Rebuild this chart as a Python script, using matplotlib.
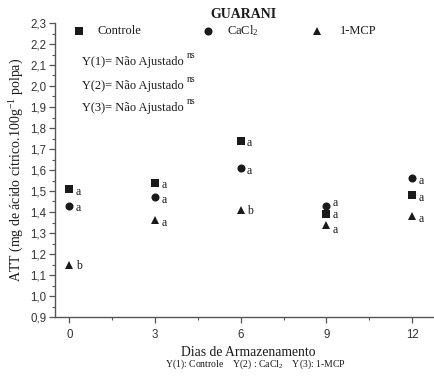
import matplotlib
matplotlib.use("Agg")
import matplotlib.pyplot as plt
from matplotlib.ticker import MultipleLocator, FuncFormatter

plt.rcParams['mathtext.fontset'] = 'custom'
plt.rcParams['mathtext.rm'] = 'Liberation Serif'
plt.rcParams['mathtext.it'] = 'Liberation Serif:italic'

days = [0, 3, 6, 9, 12]
controle = [1.51, 1.54, 1.74, 1.39, 1.48]
cacl2 = [1.43, 1.47, 1.61, 1.43, 1.56]
mcp = [1.15, 1.36, 1.41, 1.34, 1.38]
letters_controle = ['a', 'a', 'a', 'a', 'a']
letters_cacl2 = ['a', 'a', 'a', 'a', 'a']
letters_mcp = ['b', 'a', 'b', 'a', 'a']

serif = 'Liberation Serif'
sans = 'Liberation Sans'
ink = '#1a1a1a'

fig = plt.figure(figsize=(4.35, 3.76), dpi=100)
ax = fig.add_axes([55/435, 1 - 317/376, 1 - 55/435, (317 - 23)/376])

# per-series vertical nudge for the letter labels (points); day 9 is crowded
series = [
    (controle, letters_controle, 's', 5.2, [-2, -2, -2, -1, -2]),
    (cacl2, letters_cacl2, 'o', 5.8, [-2, -2, -2, 2, -2]),
    (mcp, letters_mcp, '^', 6.2, [-1, -2, -1, -4, -2]),
]
for vals, lets, mk, ms, dys in series:
    ax.plot(days, vals, linestyle='none', marker=mk, markersize=ms,
            color=ink, markeredgewidth=0)
    for x, y, t, dy in zip(days, vals, lets, dys):
        ax.annotate(t, (x, y), xytext=(4.5, dy), textcoords='offset points',
                    fontsize=8.5, family=serif, color=ink, va='center', ha='left')

ax.set_xlim(-0.5, 12.8)
ax.set_ylim(0.9, 2.3)
ax.set_xticks(days)
ax.xaxis.set_minor_locator(MultipleLocator(1.5))
ax.yaxis.set_major_locator(MultipleLocator(0.1))
ax.yaxis.set_minor_locator(MultipleLocator(0.05))
ax.yaxis.set_major_formatter(FuncFormatter(lambda v, p: f"{v:.1f}".replace('.', ',')))

for s in ['top', 'right']:
    ax.spines[s].set_visible(False)
for s in ['left', 'bottom']:
    ax.spines[s].set_color('#555555')
    ax.spines[s].set_linewidth(1.0)

ax.tick_params(axis='both', which='major', direction='out', length=4, width=0.9,
               color='#555555', labelsize=8.3, labelcolor='#333333', pad=2)
ax.tick_params(axis='both', which='minor', direction='out', length=2.5, width=0.8,
               color='#555555')
for lab in ax.get_xticklabels() + ax.get_yticklabels():
    lab.set_family(sans)
ax.tick_params(axis='x', which='major', pad=5)

ax.set_ylabel('ATT (mg de ácido cítrico.100g$^{-1}$ polpa)', family=serif,
              fontsize=10, color=ink, labelpad=3)

fig.text(243/435, 1 - 15/376, 'GUARANI', family=serif, fontweight='bold',
         fontsize=10, ha='center', va='center', color=ink)

# legend row
leg = [('s', 79, 'Controle', 98, 5.2), ('o', 208, 'CaCl$_2$', 227, 5.8),
       ('^', 317, '1-MCP', 340, 6.2)]
for mk, mx, txt, tx, ms in leg:
    fig.lines.append(plt.Line2D([mx/435], [1 - 31/376], marker=mk, markersize=ms,
                                color=ink, markeredgewidth=0, linestyle='none',
                                transform=fig.transFigure))
    fig.text(tx/435, 1 - 31/376, txt, family=serif, fontsize=9,
             ha='left', va='center', color=ink)

for i, yy in enumerate([62, 86, 108]):
    fig.text(82/435, 1 - yy/376, f'Y({i+1})= Não Ajustado', family=serif,
             fontsize=9, ha='left', va='center', color=ink)
    fig.text(187/435, 1 - (yy - 6)/376, 'ns', family=serif, fontsize=7,
             ha='left', va='center', color=ink)

fig.text(248/435, 1 - 352/376, 'Dias de Armazenamento', family=serif,
         fontsize=9.8, ha='center', va='center', color=ink)
fig.text(255/435, 1 - 364/376,
         'Y(1): Controle    Y(2) : CaCl$_2$    Y(3): 1-MCP', family=serif,
         fontsize=7, ha='center', va='center', color=ink)

fig.savefig('out.png', dpi=100)
